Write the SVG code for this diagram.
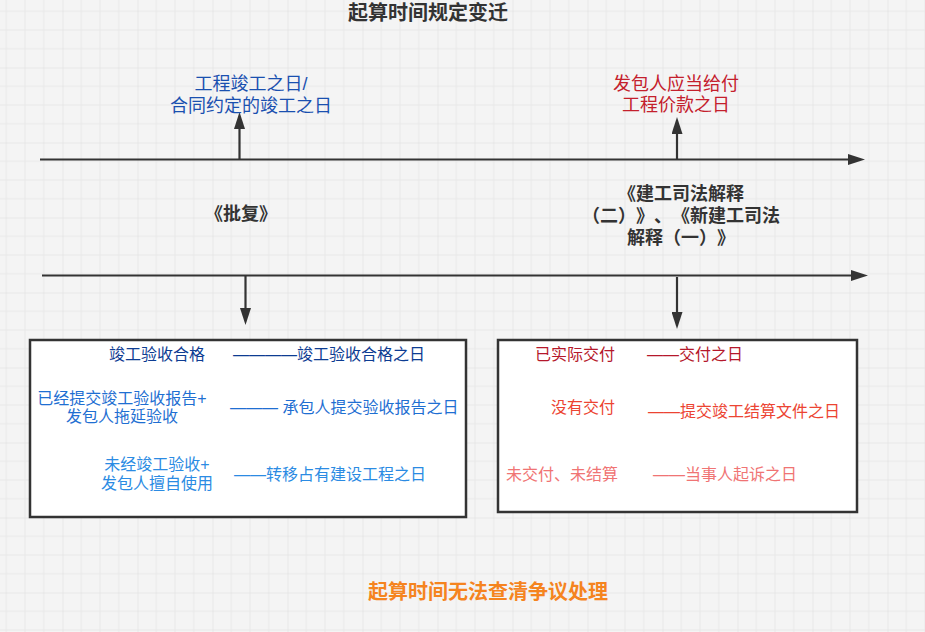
<svg xmlns="http://www.w3.org/2000/svg" width="925" height="632" viewBox="0 0 925 632">
<defs>
<pattern id="grid" x="62.5" y="67.5" width="75" height="75" patternUnits="userSpaceOnUse">
<rect width="75" height="75" fill="#f4f4f4"/>
<path d="M18.75 0V75M37.5 0V75M56.25 0V75M0 18.75H75M0 37.5H75M0 56.25H75" stroke="#e8e8e8" stroke-width="1"/>
<path d="M0 0V75M0 0H75" stroke="#dcdcdc" stroke-width="1"/>
</pattern>
<marker id="ah" viewBox="0 0 17 11" refX="0" refY="5.5" markerWidth="17" markerHeight="11" markerUnits="userSpaceOnUse" orient="auto">
<path d="M0 0L17 5.5L0 11Z" fill="#333333"/>
</marker>
</defs>
<style>
text{font-family:"Liberation Sans","Noto Sans CJK SC",sans-serif;text-spacing-trim:space-all;font-feature-settings:"palt" 0;}
.b{font-weight:bold;}
.axis{stroke:#333333;stroke-width:2.2;fill:none;}
.box{fill:#ffffff;stroke:#333333;stroke-width:2.5;}
.t18{font-size:18px;}
.t16{font-size:16px;}
.m{text-anchor:middle;}
</style>
<rect width="925" height="632" fill="url(#grid)"/>

<g id="connectors">
<path class="axis" d="M40 159.5H848" marker-end="url(#ah)"/>
<path class="axis" d="M239.5 159V129" marker-end="url(#ah)"/>
<path class="axis" d="M677 159V134" marker-end="url(#ah)"/>
<path class="axis" d="M42 275.5H851" marker-end="url(#ah)"/>
<path class="axis" d="M245.5 275V308" marker-end="url(#ah)"/>
<path class="axis" d="M677 277V312" marker-end="url(#ah)"/>
</g>

<g id="title">
<text class="b m" x="428" y="20" font-size="20" fill="#333333">起算时间规定变迁</text>
</g>

<g id="completion-date">
<text class="t18 m" x="251" y="90" fill="#1A50B0">工程竣工之日/</text>
<text class="t18 m" x="251" y="111.5" fill="#1A50B0">合同约定的竣工之日</text>
</g>

<g id="payment-date">
<text class="t18 m" x="676" y="90" fill="#C4202C">发包人应当给付</text>
<text class="t18 m" x="676" y="110.5" fill="#C4202C">工程价款之日</text>
</g>

<g id="pifu">
<text class="t18 b m" x="241" y="220" fill="#333333">《批复》</text>
</g>

<g id="interpretation">
<text class="t18 b m" x="681" y="200" fill="#333333">《建工司法解释</text>
<text class="t18 b m" x="681" y="222" fill="#333333">（二）》、《新建工司法</text>
<text class="t18 b m" x="681" y="244" fill="#333333">解释（一）》</text>
</g>

<g id="left-box">
<rect class="box" x="30" y="340" width="436" height="177"/>
<text class="t16 m" x="157" y="360" fill="#0D3C92">竣工验收合格</text>
<text class="t16" x="233" y="360" fill="#0D3C92">————竣工验收合格之日</text>
<text class="t16 m" x="122" y="403.5" fill="#1F6FD2">已经提交竣工验收报告+</text>
<text class="t16 m" x="122" y="422" fill="#1F6FD2">发包人拖延验收</text>
<text class="t16" x="230" y="413" fill="#1F6FD2">——— 承包人提交验收报告之日</text>
<text class="t16 m" x="157" y="470" fill="#2B8BE3">未经竣工验收+</text>
<text class="t16 m" x="157" y="489" fill="#2B8BE3">发包人擅自使用</text>
<text class="t16" x="234" y="480" fill="#2B8BE3">——转移占有建设工程之日</text>
</g>

<g id="right-box">
<rect class="box" x="498" y="340" width="359" height="172"/>
<text class="t16 m" x="575" y="360" fill="#B5182B">已实际交付</text>
<text class="t16" x="647" y="360" fill="#B5182B">——交付之日</text>
<text class="t16 m" x="583" y="413" fill="#EC4432">没有交付</text>
<text class="t16" x="648" y="417" fill="#EC4432">——提交竣工结算文件之日</text>
<text class="t16 m" x="562" y="480" fill="#F07474">未交付、未结算</text>
<text class="t16" x="653" y="480" fill="#F07474">——当事人起诉之日</text>
</g>

<g id="footer">
<text class="b m" x="488" y="599" font-size="20" fill="#F5841F">起算时间无法查清争议处理</text>
</g>
</svg>
